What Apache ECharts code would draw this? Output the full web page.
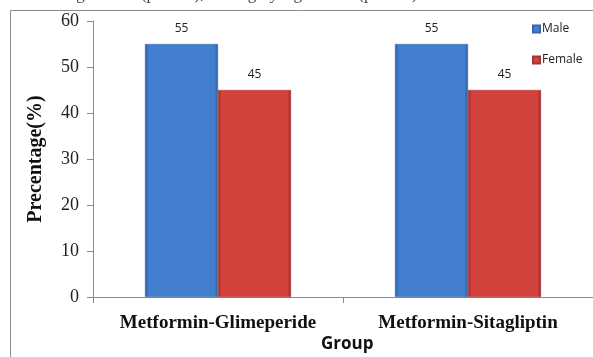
<!DOCTYPE html>
<html><head><meta charset="utf-8">
<script src="https://cdn.jsdelivr.net/npm/echarts@6/dist/echarts.min.js"></script>
<style>html,body{margin:0;padding:0;background:#fff}#c{width:593px;height:357px}</style>
</head><body><div id="c"></div>
<script>
const categories = ['Metformin-Glimeperide', 'Metformin-Sitagliptin'];
const maleValues = [55, 55];
const femaleValues = [45, 45];
const yTicks = [0, 10, 20, 30, 40, 50, 60];

function grad(dark, light) {
  return new echarts.graphic.LinearGradient(0, 0, 1, 0, [
    {offset: 0, color: dark}, {offset: 0.05, color: light}, {offset: 0.95, color: light}, {offset: 1, color: dark}
  ]);
}
const chart = echarts.init(document.getElementById('c'), null, {renderer: 'canvas'});
chart.setOption({
  animation: false,
  graphic: [
    {type: 'rect', shape: {x: 10.5, y: 10.5, width: 700, height: 500}, style: {fill: 'none', stroke: '#8a8a8a', lineWidth: 1}, z: -1},
    {type: 'text', left: 30, top: -14, style: {text: 'Non-significant (p>0.05), **: highly significant (p<0.01)', font: '17px "Liberation Serif", serif', fill: '#444'}},
    {type: 'text', left: 321, top: 336, style: {text: 'Group', font: 'bold 17px "Open Sans", "DejaVu Sans", sans-serif', fill: '#111', align: 'center'}}
  ],
  grid: {left: 93, top: 21, width: 506, bottom: 60, containLabel: false},
  legend: {
    orient: 'vertical', left: 527, top: 17, itemGap: 17, itemWidth: 7, itemHeight: 7,
    icon: 'rect',
    textStyle: {fontFamily: '"Open Sans", "DejaVu Sans", sans-serif', fontSize: 12, lineHeight: 14, color: '#222', padding: [0,0,0,-3]},
    data: ['Male', 'Female']
  },
  xAxis: {
    type: 'category', data: categories,
    axisLine: {lineStyle: {color: '#8a8a8a'}},
    axisTick: {show: true, length: 6, lineStyle: {color: '#8a8a8a'}},
    axisLabel: {margin: 17, fontFamily: '"Liberation Serif", serif', fontWeight: 'bold', fontSize: 19, color: '#111', interval: 0},
  },
  yAxis: {
    type: 'value', min: 0, max: 60, interval: 10,
    name: 'Precentage(%)', nameLocation: 'middle', nameGap: 47,
    nameTextStyle: {fontFamily: '"Liberation Serif", serif', fontWeight: 'bold', fontSize: 20, color: '#111'},
    axisLine: {show: true, lineStyle: {color: '#8a8a8a'}},
    axisTick: {show: true, length: 6, lineStyle: {color: '#8a8a8a'}},
    splitLine: {show: false},
    axisLabel: {margin: 14, fontFamily: '"Liberation Serif", serif', fontSize: 18, color: '#222',
      formatter: v => yTicks.includes(v) ? String(v) : ''}
  },
  series: [
    {name: 'Male', type: 'bar', data: maleValues, barWidth: 73, barGap: '0%',
     itemStyle: {color: grad('#2c5a9a', '#4280cf'), borderColor: '#3566aa', borderWidth: 0.5},
     label: {show: true, position: 'top', distance: 9, fontFamily: '"Open Sans", "DejaVu Sans", sans-serif', fontSize: 12, color: '#222'}},
    {name: 'Female', type: 'bar', data: femaleValues, barWidth: 73,
     itemStyle: {color: grad('#9a2828', '#d3423d'), borderColor: '#a83232', borderWidth: 0.5},
     label: {show: true, position: 'top', distance: 9, fontFamily: '"Open Sans", "DejaVu Sans", sans-serif', fontSize: 12, color: '#222'}}
  ]
});
</script></body></html>
